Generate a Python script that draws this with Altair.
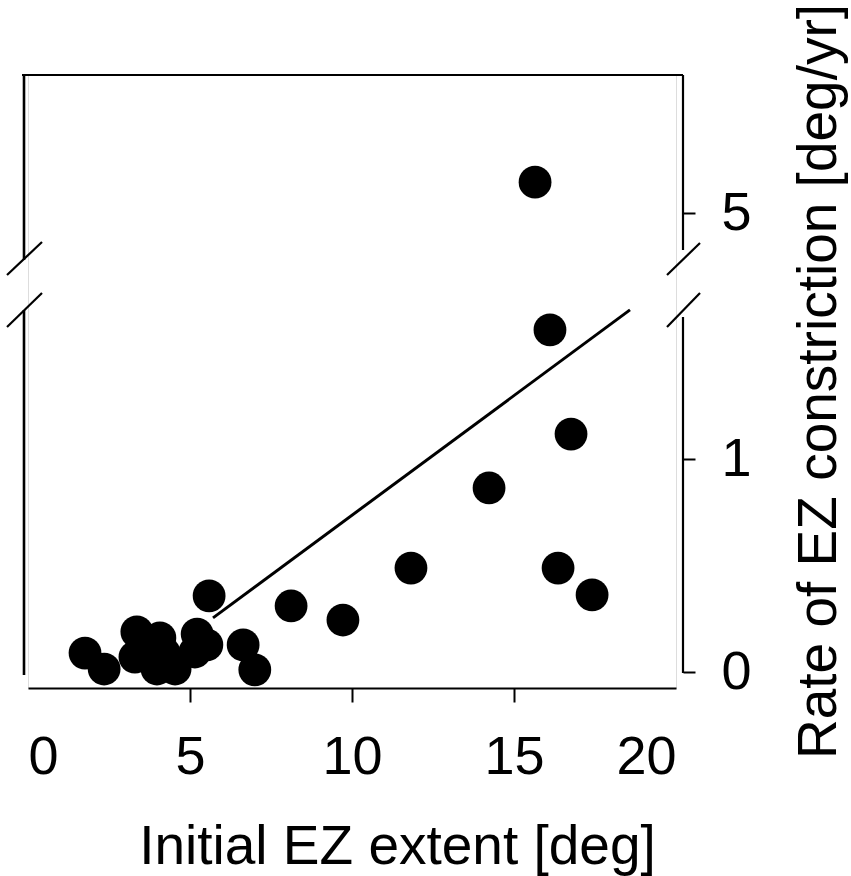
import altair as alt
import pandas as pd

# ---- data ----
x_vals = [1.76, 2.35, 3.36, 3.30, 4.07, 3.98, 4.54, 4.20, 5.15, 5.22, 5.52, 5.59, 6.64, 7.00,
          8.12, 9.72, 11.82, 14.23, 16.36, 17.41, 16.76, 16.11, 15.65]
y_vals = [0.089, 0.014, 0.188, 0.070, 0.160, 0.014, 0.014, 0.090, 0.094, 0.178, 0.127, 0.357, 0.127, 0.010,
          0.310, 0.244, 0.488, 0.864, 0.488, 0.362, 1.117, 1.606, 5.145]
fit_x = [5.71, 18.58]
fit_y = [0.254, 1.70]
x_ticks = [0, 5, 10, 15, 20]
y_ticks = [0, 1, 5]

pts = pd.DataFrame({"x": x_vals, "y": y_vals})
fit = pd.DataFrame({"x": fit_x, "y": fit_y})
one = pd.DataFrame({"a": [0]})

W, H = 648, 613
FONT = "Liberation Sans"

# broken (piecewise) y scale: lower part 0..1.75, upper part 4.84..5.648
ydom = [-0.0751, 1.75, 4.84, 5.648]
yrng = [613, 224.25, 172.1, 0]

xs = alt.Scale(domain=[0, 20], nice=False, zero=False)
ys = alt.Scale(domain=ydom, range=yrng, nice=False, zero=False)

xaxis = alt.Axis(values=x_ticks, grid=False, domain=True, domainColor="black", domainWidth=2,
                 ticks=True, tickSize=14, tickWidth=2, tickColor="black",
                 tickOpacity={"condition": {"test": "datum.value == 0 || datum.value == 20", "value": 0},
                              "value": 1},
                 labelFontSize=54, labelPadding=71, labelBaseline="alphabetic",
                 labelColor="black", labelFont=FONT,
                 title="Initial EZ extent [deg]", titleFontSize=55, titleFont=FONT,
                 titleFontWeight="normal", titleColor="black",
                 titleX=369, titleY=175, titleBaseline="alphabetic", titleAlign="center")
yaxis = alt.Axis(orient="right", values=y_ticks, format="d", grid=False, domain=False, offset=7,
                 ticks=True, tickSize=12, tickWidth=2, tickColor="black",
                 labelFontSize=54, labelPadding=26, labelAlign="left", labelBaseline="middle",
                 labelColor="black", labelFont=FONT,
                 title="Rate of EZ constriction [deg/yr]", titleFontSize=55, titleFont=FONT,
                 titleFontWeight="normal", titleColor="black", titleAngle=270,
                 titleX=152, titleY=306, titleBaseline="alphabetic", titleAlign="center")

points = alt.Chart(pts).mark_circle(size=1075, color="black", opacity=1).encode(
    x=alt.X("x:Q", scale=xs, axis=xaxis),
    y=alt.Y("y:Q", scale=ys, axis=yaxis),
)
line = alt.Chart(fit).mark_line(color="black", strokeWidth=3).encode(
    x=alt.X("x:Q", scale=xs),
    y=alt.Y("y:Q", scale=ys),
)


def seg(x1, y1, x2, y2, w=2.2):
    return alt.Chart(one).mark_rule(color="black", strokeWidth=w).encode(
        x=alt.value(x1), y=alt.value(y1), x2=alt.value(x2), y2=alt.value(y2)
    )


frame = [
    seg(-6, 0, 655, 0),          # top border
    seg(-4, 0, -4, 185, 2.6),    # left axis, upper part
    seg(-4, 235, -4, 600, 2.6),  # left axis, lower part
    seg(655, 0, 655, 175),       # right axis, upper part
    seg(655, 242, 655, 598),     # right axis, lower part
    seg(-21, 200, 14, 167),      # break marks
    seg(-21, 252, 14, 218),
    seg(639, 200, 672, 168),
    seg(639, 252, 672, 218),
]

chart = alt.layer(points, line, *frame).properties(
    width=W, height=H,
    autosize=alt.AutoSizeParams(type="none"),
    padding={"left": 28, "top": 75, "right": 175, "bottom": 188},
).configure_view(stroke=None).configure(background="white")

chart.save("out.html", embed_options={"renderer": "svg", "actions": False})
